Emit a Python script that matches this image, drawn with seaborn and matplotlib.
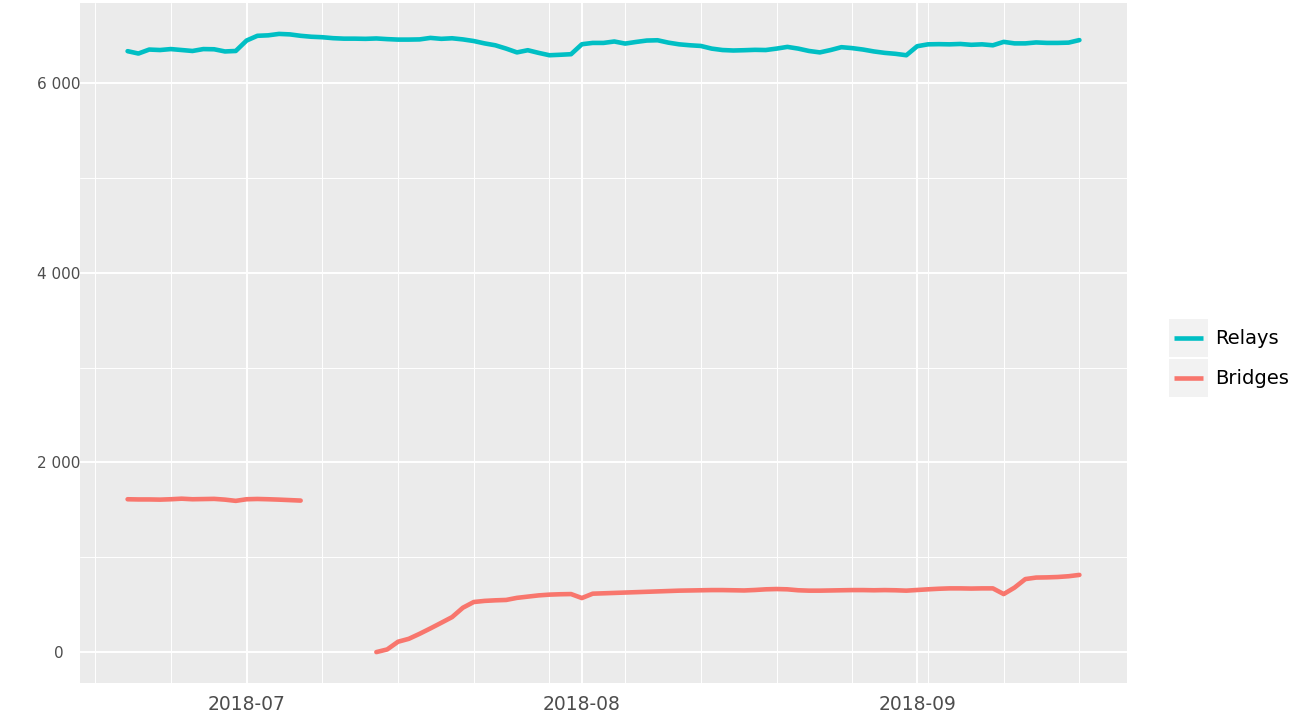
import pandas as pd
import numpy as np
import matplotlib
matplotlib.use('Agg')
import matplotlib.pyplot as plt
import matplotlib.dates as mdates
import seaborn as sns
from matplotlib.lines import Line2D
from matplotlib.patches import Rectangle
from matplotlib.legend_handler import HandlerBase

# daily values, 2018-06-20 .. 2018-09-16
dates = pd.date_range("2018-06-20", "2018-09-16", freq="D")

relays = [
    6338, 6313, 6355, 6350, 6360, 6350, 6340, 6360, 6358, 6335, 6340,   # Jun 20-30
    6450, 6500, 6505, 6520, 6515, 6500, 6490, 6485, 6475, 6470, 6470,   # Jul 1-11
    6468, 6472, 6465, 6460, 6460, 6462, 6478, 6468, 6474, 6462, 6445,   # Jul 12-22
    6420, 6400, 6365, 6325, 6348, 6320, 6295, 6300, 6306,               # Jul 23-31
    6411, 6425, 6425, 6440, 6418, 6435, 6450, 6453, 6428, 6410, 6400,   # Aug 1-11
    6393, 6365, 6350, 6345, 6348, 6352, 6350, 6365, 6383, 6365, 6340,   # Aug 12-22
    6325, 6350, 6380, 6370, 6355, 6335, 6320, 6310, 6295,               # Aug 23-31
    6390, 6410, 6412, 6410, 6414, 6405, 6410, 6400, 6436, 6420, 6420,   # Sep 1-11
    6430, 6425, 6425, 6428, 6455,                                       # Sep 12-16
]

# bridges: first run Jun 20 - Jul 6, no data Jul 7-12, second run Jul 13 - Sep 16
bridges_a = [1612, 1610, 1610, 1608, 1612, 1618, 1612, 1614, 1616, 1608, 1595,
             1612, 1615, 1612, 1608, 1603, 1598]
bridges_b = [
    0, 28, 109, 140, 193, 250, 309, 369, 468, 528,                      # Jul 13-22
    540, 546, 550, 572, 585, 598, 606, 610, 612,                        # Jul 23-31
    570, 616, 620, 624, 628, 632, 636, 640, 644, 648, 650,              # Aug 1-11
    652, 654, 654, 652, 650, 655, 662, 665, 662, 652, 648,              # Aug 12-22
    648, 650, 652, 654, 654, 652, 654, 652, 648,                        # Aug 23-31
    655, 662, 668, 672, 672, 670, 672, 672, 612, 680, 770,              # Sep 1-11
    786, 788, 792, 800, 814,                                            # Sep 12-16
]
gap_days = 6

series_names = ["Relays", "Bridges"]
colors = {"Relays": "#00BFC4", "Bridges": "#F8766D"}

# long format table, "segment" keeps the bridge gap open
bridges_dates_a = dates[:len(bridges_a)]
bridges_dates_b = dates[len(bridges_a) + gap_days:]
df = pd.concat([
    pd.DataFrame({"date": dates, "value": relays, "series": "Relays", "segment": "r"}),
    pd.DataFrame({"date": bridges_dates_a, "value": bridges_a, "series": "Bridges", "segment": "b1"}),
    pd.DataFrame({"date": bridges_dates_b, "value": bridges_b, "series": "Bridges", "segment": "b2"}),
], ignore_index=True)

sns.set_theme(style="darkgrid")
plt.rcParams['font.family'] = ['DejaVu Sans']

fig = plt.figure(figsize=(12.94, 7.14), dpi=100)
ax = fig.add_axes([80 / 1294, 1 - 683 / 714, (1127 - 80) / 1294, (683 - 3) / 714])
ax.set_facecolor("#EBEBEB")

sns.lineplot(data=df, x="date", y="value", hue="series", hue_order=series_names,
             units="segment", estimator=None, palette=colors, linewidth=3.3,
             legend=False, ax=ax)

ax.margins(x=0.05, y=0.05)

# axes ticks / grid in ggplot style
ax.xaxis.set_major_locator(mdates.MonthLocator())
ax.xaxis.set_major_formatter(mdates.DateFormatter("%Y-%m"))
ax.xaxis.set_minor_locator(mdates.WeekdayLocator(byweekday=mdates.SU))
ax.set_yticks([0, 2000, 4000, 6000])
ax.set_yticks([1000, 3000, 5000], minor=True)
ax.yaxis.set_major_formatter(plt.FuncFormatter(lambda v, p: f"{int(v):,}".replace(",", " ")))

ax.grid(which="major", color="white", linewidth=1.4)
ax.grid(which="minor", color="white", linewidth=0.7)
for s in ax.spines.values():
    s.set_visible(False)

ax.tick_params(axis="both", which="major", length=4, width=1.1, color="#333333",
               labelcolor="#4D4D4D")
ax.tick_params(axis="x", which="major", pad=5, labelsize=13.5)
ax.tick_params(axis="y", which="major", pad=11, labelsize=11)
ax.tick_params(which="minor", length=0)
for lab in ax.get_yticklabels():
    lab.set_horizontalalignment("center")
ax.set_xlabel("")
ax.set_ylabel("")


class KeyBox(HandlerBase):
    def create_artists(self, legend, orig_handle, xdescent, ydescent, width, height, fontsize, trans):
        box = Rectangle((-xdescent, -ydescent), width, height, facecolor="#F2F2F2",
                        edgecolor="none", transform=trans)
        y = -ydescent + height / 2
        line = Line2D([-xdescent + 0.12 * width, -xdescent + 0.88 * width], [y, y],
                      color=orig_handle.get_color(), linewidth=orig_handle.get_linewidth(),
                      solid_capstyle="butt", transform=trans)
        return [box, line]


handles = [Line2D([], [], color=colors[n], linewidth=3.3) for n in series_names]
leg = fig.legend(handles, series_names, handler_map={Line2D: KeyBox()},
                 loc="center left", bbox_to_anchor=(1169 / 1294, 1 - 358 / 714),
                 frameon=False, fontsize=14, handlelength=2.0, handleheight=2.6,
                 labelspacing=0.1, handletextpad=0.35, borderpad=0, borderaxespad=0)
for t in leg.get_texts():
    t.set_color("black")

fig.savefig("out.png", dpi=100, facecolor="white")
